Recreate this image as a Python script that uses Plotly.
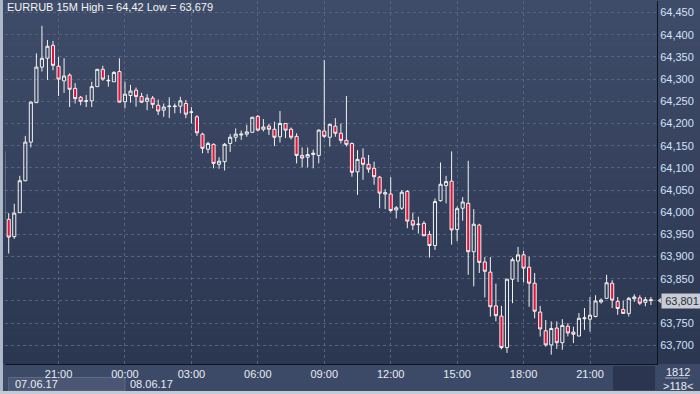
import pandas as pd
import plotly.graph_objects as go

symbol_title = "EURRUB 15M High = 64,42 Low = 63,679"
start_time = "2017-06-07 18:30"
date_labels = ["07.06.17", "08.06.17"]
last_price_label = "63,801"
corner_labels = ["1812", ">118<"]
price_ticks = [63.70, 63.75, 63.80, 63.85, 63.90, 63.95, 64.00, 64.05, 64.10,
               64.15, 64.20, 64.25, 64.30, 64.35, 64.40, 64.45]
hidden_price_tick = 63.80

opens = [64.137, 63.984, 63.945, 63.999, 64.071, 64.158, 64.247, 64.327, 64.347, 64.376,
         64.329, 64.296, 64.309, 64.279, 64.259, 64.250, 64.251, 64.283, 64.322, 64.296,
         64.294, 64.317, 64.249, 64.263, 64.275, 64.261, 64.250, 64.257, 64.241, 64.230,
         64.238, 64.238, 64.239, 64.245, 64.225, 64.215, 64.176, 64.142, 64.153, 64.108,
         64.114, 64.155, 64.169, 64.174, 64.176, 64.180, 64.216, 64.187, 64.194, 64.187,
         64.170, 64.200, 64.187, 64.171, 64.128, 64.124, 64.130, 64.128, 64.183, 64.169,
         64.194, 64.178, 64.162, 64.155, 64.091, 64.122, 64.108, 64.099, 64.079, 64.041,
         64.041, 64.005, 64.009, 64.047, 63.981, 63.972, 63.975, 63.950, 63.925, 64.026,
         64.060, 64.070, 63.961, 64.009, 64.020, 63.911, 63.971, 63.888, 63.865, 63.789,
         63.766, 63.695, 63.849, 63.890, 63.904, 63.876, 63.840, 63.775, 63.733, 63.701,
         63.739, 63.706, 63.743, 63.730, 63.721, 63.760, 63.759, 63.765, 63.798, 63.806,
         63.840, 63.799, 63.781, 63.772, 63.805, 63.807, 63.797, 63.803]
highs = [64.140, 63.998, 64.019, 64.082, 64.172, 64.250, 64.358, 64.420, 64.388, 64.386,
         64.350, 64.347, 64.313, 64.291, 64.262, 64.264, 64.294, 64.323, 64.330, 64.309,
         64.318, 64.347, 64.294, 64.287, 64.281, 64.269, 64.266, 64.262, 64.254, 64.245,
         64.259, 64.245, 64.260, 64.253, 64.237, 64.219, 64.179, 64.159, 64.155, 64.124,
         64.156, 64.176, 64.189, 64.184, 64.197, 64.215, 64.219, 64.210, 64.199, 64.204,
         64.228, 64.201, 64.191, 64.178, 64.146, 64.146, 64.141, 64.187, 64.343, 64.200,
         64.212, 64.200, 64.262, 64.157, 64.140, 64.144, 64.129, 64.114, 64.082, 64.052,
         64.079, 64.014, 64.050, 64.050, 63.999, 63.990, 63.980, 63.958, 64.031, 64.112,
         64.082, 64.137, 64.013, 64.034, 64.116, 64.007, 63.974, 63.899, 63.899, 63.839,
         63.789, 63.850, 63.898, 63.922, 63.913, 63.900, 63.863, 63.789, 63.757, 63.754,
         63.754, 63.759, 63.750, 63.742, 63.773, 63.784, 63.809, 63.813, 63.806, 63.859,
         63.847, 63.809, 63.801, 63.809, 63.815, 63.813, 63.809, 63.809]
lows = [63.980, 63.907, 63.940, 63.999, 64.070, 64.146, 64.246, 64.317, 64.298, 64.320,
        64.262, 64.269, 64.237, 64.245, 64.241, 64.237, 64.237, 64.283, 64.296, 64.283,
        64.294, 64.248, 64.234, 64.247, 64.238, 64.246, 64.230, 64.234, 64.219, 64.215,
        64.212, 64.223, 64.223, 64.212, 64.200, 64.172, 64.133, 64.133, 64.099, 64.098,
        64.094, 64.136, 64.159, 64.163, 64.170, 64.180, 64.182, 64.182, 64.174, 64.149,
        64.157, 64.167, 64.164, 64.110, 64.101, 64.101, 64.099, 64.110, 64.167, 64.148,
        64.170, 64.155, 64.148, 64.080, 64.039, 64.073, 64.089, 64.062, 64.009, 64.007,
        64.000, 63.986, 64.005, 63.964, 63.960, 63.952, 63.946, 63.898, 63.915, 64.024,
        64.020, 63.927, 63.935, 63.981, 63.859, 63.833, 63.863, 63.808, 63.765, 63.754,
        63.691, 63.683, 63.795, 63.843, 63.842, 63.787, 63.761, 63.720, 63.697, 63.679,
        63.692, 63.690, 63.720, 63.705, 63.721, 63.735, 63.731, 63.763, 63.794, 63.806,
        63.784, 63.769, 63.772, 63.765, 63.798, 63.791, 63.788, 63.791]
closes = [63.983, 63.944, 63.998, 64.071, 64.158, 64.248, 64.327, 64.347, 64.374, 64.331,
          64.300, 64.307, 64.277, 64.256, 64.250, 64.251, 64.283, 64.322, 64.300, 64.297,
          64.315, 64.248, 64.266, 64.273, 64.261, 64.248, 64.257, 64.243, 64.228, 64.237,
          64.239, 64.239, 64.251, 64.221, 64.226, 64.179, 64.144, 64.155, 64.110, 64.115,
          64.153, 64.169, 64.176, 64.176, 64.181, 64.214, 64.185, 64.192, 64.187, 64.169,
          64.200, 64.185, 64.169, 64.128, 64.122, 64.130, 64.133, 64.185, 64.171, 64.198,
          64.178, 64.162, 64.153, 64.090, 64.119, 64.108, 64.097, 64.080, 64.043, 64.044,
          64.004, 64.010, 64.045, 63.980, 63.971, 63.973, 63.947, 63.925, 64.024, 64.063,
          64.069, 63.960, 64.008, 64.023, 63.911, 63.973, 63.887, 63.867, 63.787, 63.767,
          63.695, 63.849, 63.893, 63.904, 63.874, 63.840, 63.777, 63.737, 63.701, 63.738,
          63.706, 63.745, 63.728, 63.725, 63.761, 63.762, 63.768, 63.800, 63.802, 63.841,
          63.802, 63.783, 63.772, 63.806, 63.809, 63.795, 63.803, 63.801]

times = pd.date_range(start_time, periods=len(opens), freq="15min")
step = pd.Timedelta(minutes=15)
x_lo = times[0] + step * 0.33
x_hi = times[0] + step * 118.1
time_ticks = pd.date_range("2017-06-07 21:00", "2017-06-08 21:00", freq="3h")

RED = "#e3123c"
WHITE = "#f2f2f2"
GRID = "#56637f"

fig = go.Figure()
fig.add_trace(go.Candlestick(
    x=times, open=opens, high=highs, low=lows, close=closes,
    increasing=dict(line=dict(color=WHITE, width=1), fillcolor="rgba(0,0,0,0)"),
    decreasing=dict(line=dict(color=WHITE, width=1), fillcolor=RED),
    whiskerwidth=0, hoverinfo="skip", showlegend=False,
))

shapes = []
n = 60
top = (63, 76, 105)
bot = (43, 54, 80)
for k in range(n):
    t = k / (n - 1)
    c = tuple(int(round(top[j] + (bot[j] - top[j]) * t)) for j in range(3))
    shapes.append(dict(type="rect", xref="paper", yref="paper",
                       x0=-0.01, x1=1.08, y0=1.005 - (k + 1) / n * 1.005, y1=1.005 - k / n * 1.005,
                       fillcolor="rgb(%d,%d,%d)" % c, line=dict(width=0), layer="below"))
shapes.append(dict(type="rect", xref="paper", yref="paper", x0=-0.01, x1=1.08, y0=-0.09, y1=0,
                   fillcolor="#3d4a67", line=dict(width=0), layer="below"))
shapes.append(dict(type="rect", xref="paper", yref="paper", x0=0.9325, x1=0.997, y0=-0.0716, y1=-0.0055,
                   fillcolor="#2b3550", line=dict(width=0), layer="below"))
shapes.append(dict(type="rect", xref="x", yref="paper", x0=times[1], x1="2017-06-08 00:00",
                   y0=-0.0744, y1=-0.0372, fillcolor="#4a5674", line=dict(color="#5e6a87", width=1),
                   layer="below"))
shapes.append(dict(type="rect", xref="paper", yref="paper", x0=-0.0077, x1=-0.0031, y0=-0.09, y1=1.01,
                   fillcolor="#aeb8c8", line=dict(width=0), layer="above"))
shapes.append(dict(type="rect", xref="paper", yref="paper", x0=-0.01, x1=1.08, y0=-0.09, y1=-0.0745,
                   fillcolor="#c2cad6", line=dict(width=0), layer="above"))
shapes.append(dict(type="line", xref="paper", yref="paper", x0=1.0123, x1=1.0475, y0=-0.0385, y1=-0.0385,
                   line=dict(color="#aab4c4", width=1), layer="above"))
shapes.append(dict(type="path", xref="paper", yref="y",
                   path="M 1.0005,63.801 L 1.0065,63.8075 L 1.0065,63.7945 Z",
                   fillcolor="#c8ccd4", line=dict(width=0), layer="above"))

annotations = [
    dict(text=symbol_title, xref="paper", yref="paper", x=0.0, y=1.0, xanchor="left", yanchor="top",
         showarrow=False, font=dict(size=11, color="#f4f4f4"), yshift=2),
    dict(text=date_labels[0], xref="paper", yref="paper", x=0.012, y=-0.0555, xanchor="left",
         yanchor="middle", showarrow=False, font=dict(size=11, color="#e8ecf4")),
    dict(text=date_labels[1], xref="x", yref="paper", x="2017-06-08 00:00", y=-0.0555, xanchor="left",
         yanchor="middle", showarrow=False, font=dict(size=11, color="#e8ecf4"), xshift=3),
    dict(text=corner_labels[0], xref="paper", yref="paper", x=1.0322, y=-0.0225, xanchor="center",
         yanchor="middle", showarrow=False, font=dict(size=11, color="#e8ecf4")),
    dict(text=corner_labels[1], xref="paper", yref="paper", x=1.0322, y=-0.0605, xanchor="center",
         yanchor="middle", showarrow=False, font=dict(size=11, color="#e8ecf4")),
    dict(text=last_price_label, xref="paper", yref="y", x=1.0065, y=closes[-1], xanchor="left",
         yanchor="middle", showarrow=False, font=dict(size=11, color="#2a2e38"),
         bgcolor="#c8ccd4", borderpad=1, width=38),
]

price_text = ["" if abs(v - hidden_price_tick) < 1e-9 else ("%.3f" % v).replace(".", ",")
              for v in price_ticks]

fig.update_layout(
    width=700, height=394,
    margin=dict(l=5, r=43, t=1, b=30),
    paper_bgcolor="#3a4764", plot_bgcolor="rgba(0,0,0,0)",
    font=dict(family="Liberation Sans, Arial, sans-serif", size=11, color="#e8ecf4"),
    separators=", ",
    boxgap=0.2,
    shapes=shapes, annotations=annotations,
    xaxis=dict(type="date", range=[x_lo, x_hi], rangeslider=dict(visible=False),
               tickmode="array", tickvals=list(time_ticks),
               ticktext=[t.strftime("%H:%M") for t in time_ticks],
               showgrid=True, gridcolor=GRID, griddash="3px,3px", gridwidth=1,
               showline=True, linecolor="#10141c", linewidth=1, ticks="", zeroline=False,
               tickfont=dict(size=11, color="#e8ecf4")),
    yaxis=dict(side="right", range=[63.658, 64.476], tickmode="array",
               tickvals=price_ticks, ticktext=price_text,
               showgrid=True, gridcolor=GRID, griddash="3px,3px", gridwidth=1,
               showline=True, linecolor="#10141c", linewidth=1, ticks="", zeroline=False,
               tickfont=dict(size=11, color="#d2e2fc")),
)

fig.write_html("out.html")
